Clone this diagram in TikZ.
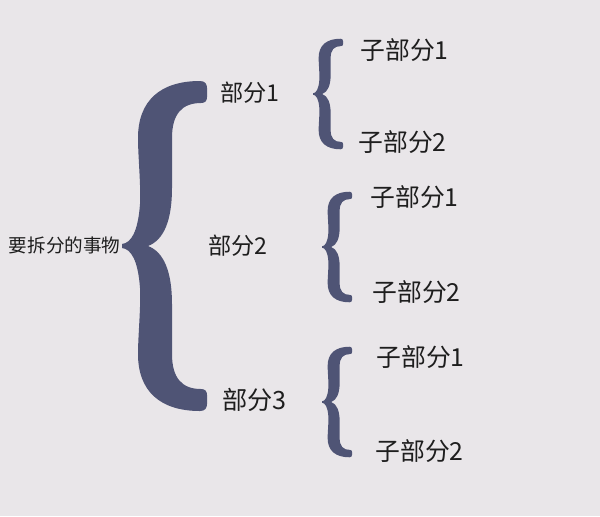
\documentclass[tikz,border=0pt]{standalone}
\usepackage{fontspec}
\newfontfamily\cjk{Noto Sans CJK SC}
\usetikzlibrary{positioning}
\definecolor{paper}{HTML}{E9E6E9}
\definecolor{slate}{HTML}{4F5475}
\definecolor{ink}{HTML}{1E1E1E}
\tikzstyle{whole} = [font=\cjk\fontsize{9.3}{11}\selectfont, text=ink, inner sep=0pt, anchor=east]
\tikzstyle{part} = [font=\cjk\fontsize{11.6}{14}\selectfont, text=ink, inner sep=0pt, anchor=west]
\tikzstyle{subpart} = [font=\cjk\fontsize{12.4}{15}\selectfont, text=ink, inner sep=0pt, anchor=west]
\tikzstyle{small} = [xscale=0.353, yscale=0.335]
\tikzset{curly/.pic={
  \fill[slate] (0,2) .. controls (9,3) and (16,14) .. (18,42)
    .. controls (19,60) and (16,90) .. (16,108)
    .. controls (16,145) and (38,165) .. (78,165)
    .. controls (83,165) and (85,162) .. (85,158)
    -- (85,149)
    .. controls (85,145) and (83,143) .. (79,143)
    .. controls (60,143) and (50,132) .. (50,108)
    -- (50,58)
    .. controls (50,26) and (42,6) .. (26,0)
    .. controls (42,-6) and (50,-26) .. (50,-58)
    -- (50,-108)
    .. controls (50,-132) and (60,-143) .. (79,-143)
    .. controls (83,-143) and (85,-145) .. (85,-149)
    -- (85,-158)
    .. controls (85,-162) and (83,-165) .. (78,-165)
    .. controls (38,-165) and (16,-145) .. (16,-108)
    .. controls (16,-90) and (19,-60) .. (18,-42)
    .. controls (16,-14) and (9,-3) .. (0,-2) -- cycle;
}}

\begin{document}
\begin{tikzpicture}[x=0.5pt, y=-0.5pt]
\fill[paper] (0,0) rectangle (600,516);
\useasboundingbox (0,0) rectangle (600,516);
% the whole and its parts
\node (thing) [whole] at (121,245) {要拆分的事物};
\pic (big) at (122,246) {curly};
\node (part1) [part] at (220,93) {部分1};
\node (part2) [part] at (208,246) {部分2};
\node (part3) [part, font=\cjk\fontsize{12.6}{15}\selectfont] at (222,400) {部分3};
% sub parts
\pic (brace1) [small] at (313,94) {curly};
\pic (brace2) [small] at (322,247) {curly};
\pic (brace3) [small] at (322,402) {curly};
\node (sub11) [subpart] at (360,50) {子部分1};
\node (sub12) [subpart] at (358,142) {子部分2};
\node (sub21) [subpart] at (370,197) {子部分1};
\node (sub22) [subpart] at (372,292) {子部分2};
\node (sub31) [subpart] at (376,357) {子部分1};
\node (sub32) [subpart] at (375,451) {子部分2};
\end{tikzpicture}
\end{document}
